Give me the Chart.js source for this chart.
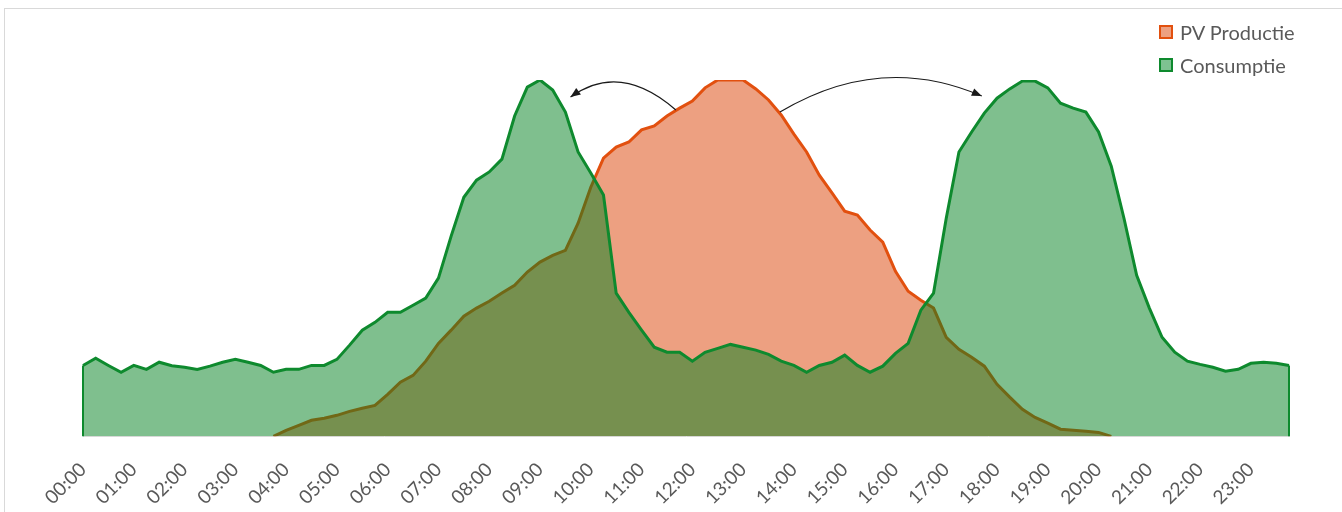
<!DOCTYPE html>
<html>
<head>
<meta charset="utf-8">
<title>PV Productie vs Consumptie</title>
<script src="https://cdn.jsdelivr.net/npm/chart.js@4.4.1/dist/chart.umd.min.js"></script>
<style>
  html, body { margin: 0; padding: 0; background: #fff; }
  #wrap { position: relative; width: 1342px; height: 512px; overflow: hidden; }
  #pvChart { position: absolute; left: 0; top: 0; }
  #frame { position: absolute; left: 4px; top: 8px; right: -10px; bottom: -10px;
           border-left: 1px solid #d9d9d9; border-top: 1px solid #d9d9d9; }
  #legend { position: absolute; left: 1159px; top: 15px; font-family: Lato, sans-serif;
            font-size: 20px; color: #595959; }
  .item { display: flex; align-items: center; height: 33px; }
  .box { width: 10px; height: 10px; border: 2px solid; margin-right: 7px; }
</style>
</head>
<body>
<div id="wrap">
  <div id="frame"></div>
  <canvas id="pvChart" width="1342" height="527"></canvas>
  <div id="legend">
    <div class="item"><span class="box" style="background:#eda081;border-color:#e2500f"></span>PV Productie</div>
    <div class="item"><span class="box" style="background:#7ec291;border-color:#0e8a2e"></span>Consumptie</div>
  </div>
</div>
<script>
// hour tick labels, data is per quarter hour
const hourLabels = ['00:00', '01:00', '02:00', '03:00', '04:00', '05:00', '06:00', '07:00',
    '08:00', '09:00', '10:00', '11:00', '12:00', '13:00', '14:00', '15:00',
    '16:00', '17:00', '18:00', '19:00', '20:00', '21:00', '22:00', '23:00'];
const quarterMinutes = ['00', '15', '30', '45'];

// relative load (peak = 100)
const consumptie = [
    19.9, 21.9, 19.9, 18.0, 19.9, 18.8, 20.8, 19.8, 19.4, 18.8,
    19.7, 20.8, 21.6, 20.8, 19.9, 18.0, 18.8, 18.8, 19.9, 19.9,
    21.6, 25.6, 29.8, 32.0, 34.8, 34.8, 36.8, 38.8, 44.4, 56.2,
    67.1, 71.9, 74.2, 77.8, 89.9, 98.0, 100, 97.2, 91.0, 79.8,
    73.9, 67.7, 40.2, 34.8, 29.8, 25.0, 23.6, 23.6, 21.1, 23.6,
    24.7, 25.8, 25.0, 24.2, 23.0, 21.1, 19.9, 18.0, 19.9, 20.8,
    22.8, 19.9, 18.0, 19.7, 23.3, 26.1, 35.4, 40.2, 61.2, 79.8,
    85.4, 90.7, 94.9, 97.5, 99.7, 99.7, 97.8, 93.5, 92.1, 91.0,
    85.4, 75.8, 61.2, 45.2, 36.0, 27.8, 23.6, 21.1, 20.2, 19.4,
    18.3, 18.8, 20.5, 20.8, 20.5, 19.9
];

// solar production, null = no sun
const pvProductie = [
    null, null, null, null, null, null, null, null, null, null,
    null, null, null, null, null, 0, 1.7, 3.1, 4.5, 5.1,
    5.9, 7.0, 7.9, 8.7, 11.8, 15.2, 17.1, 21.1, 26.1, 29.8,
    33.7, 36.0, 37.9, 40.2, 42.4, 46.1, 48.9, 50.8, 52.2, 59.8,
    69.9, 78.1, 81.2, 82.6, 86.0, 87.1, 89.9, 92.1, 94.1, 97.8,
    100, 100, 100, 97.5, 94.4, 90.2, 84.8, 79.8, 73.3, 68.3,
    63.2, 62.1, 57.9, 54.5, 46.3, 40.7, 38.2, 36.0, 27.8, 24.4,
    22.2, 19.7, 14.6, 11.0, 7.6, 5.3, 3.7, 2.0, 1.7, 1.4,
    1.1, 0, null, null, null, null, null, null, null, null,
    null, null, null, null, null, null
];

const timeLabels = [];
hourLabels.forEach(h => quarterMinutes.forEach(m => timeLabels.push(h.slice(0, 3) + m)));

// curved arrows (category index, value): surplus moved to the consumption peaks
const shiftArrows = [
    { from: [46.7, 91.6], ctrl: [42.3, 105.3], to: [38.4, 95.2] },
    { from: [54.9, 91.0], ctrl: [62.8, 107.8], to: [70.8, 95.5] }
];

const arrowPlugin = {
    id: 'shiftArrows',
    afterDatasetsDraw(chart) {
        const ctx = chart.ctx;
        const xs = chart.scales.x, ys = chart.scales.y;
        const px = p => [xs.getPixelForValue(p[0]), ys.getPixelForValue(p[1])];
        ctx.save();
        ctx.strokeStyle = '#1a1a1a';
        ctx.fillStyle = '#1a1a1a';
        ctx.lineWidth = 1.2;
        shiftArrows.forEach(a => {
            const p0 = px(a.from), c = px(a.ctrl), p2 = px(a.to);
            ctx.beginPath();
            ctx.moveTo(p0[0], p0[1]);
            ctx.quadraticCurveTo(c[0], c[1], p2[0], p2[1]);
            ctx.stroke();
            const ang = Math.atan2(p2[1] - c[1], p2[0] - c[0]);
            ctx.beginPath();
            ctx.moveTo(p2[0], p2[1]);
            ctx.lineTo(p2[0] - 10 * Math.cos(ang) + 4 * Math.sin(ang), p2[1] - 10 * Math.sin(ang) - 4 * Math.cos(ang));
            ctx.lineTo(p2[0] - 10 * Math.cos(ang) - 4 * Math.sin(ang), p2[1] - 10 * Math.sin(ang) + 4 * Math.cos(ang));
            ctx.closePath();
            ctx.fill();
        });
        ctx.restore();
    }
};

// close the consumption area at both ends like the spreadsheet does
const edgePlugin = {
    id: 'areaEdges',
    afterDatasetsDraw(chart) {
        const pts = chart.getDatasetMeta(0).data;
        const base = chart.scales.y.getPixelForValue(0);
        const ctx = chart.ctx;
        ctx.save();
        ctx.strokeStyle = '#0e8a2e';
        ctx.lineWidth = 2;
        [pts[0], pts[pts.length - 1]].forEach(p => {
            ctx.beginPath();
            ctx.moveTo(p.x, base);
            ctx.lineTo(p.x, p.y);
            ctx.stroke();
        });
        ctx.restore();
    }
};

const ctx = document.getElementById('pvChart').getContext('2d');
const pvChart = new Chart(ctx, {
    type: 'line',
    data: {
        labels: timeLabels,
        datasets: [{
            label: 'Consumptie',
            data: consumptie,
            borderColor: '#0e8a2e',
            backgroundColor: 'rgba(0, 128, 30, 0.5)',
            borderWidth: 3,
            fill: 'origin',
            pointRadius: 0,
            tension: 0
        }, {
            label: 'PV Productie',
            data: pvProductie,
            borderColor: '#e2500f',
            backgroundColor: '#eda081',
            borderWidth: 3,
            fill: 'origin',
            pointRadius: 0,
            tension: 0
        }]
    },
    options: {
        responsive: false,
        animation: false,
        layout: { padding: { left: 83, right: 53, top: 80, bottom: 4 } },
        plugins: {
            legend: { display: false },
            tooltip: { enabled: false }
        },
        scales: {
            x: {
                grid: { display: false },
                border: { display: true, color: '#d9d9d9', width: 1 },
                ticks: {
                    autoSkip: false,
                    minRotation: 45,
                    maxRotation: 45,
                    padding: 14,
                    color: '#595959',
                    font: { family: 'Lato', size: 19 },
                    callback: (val, idx) => idx % 4 === 0 ? timeLabels[idx] : ''
                }
            },
            y: {
                display: false,
                min: 0,
                max: 100
            }
        }
    },
    plugins: [arrowPlugin, edgePlugin]
});
</script>
</body>
</html>
